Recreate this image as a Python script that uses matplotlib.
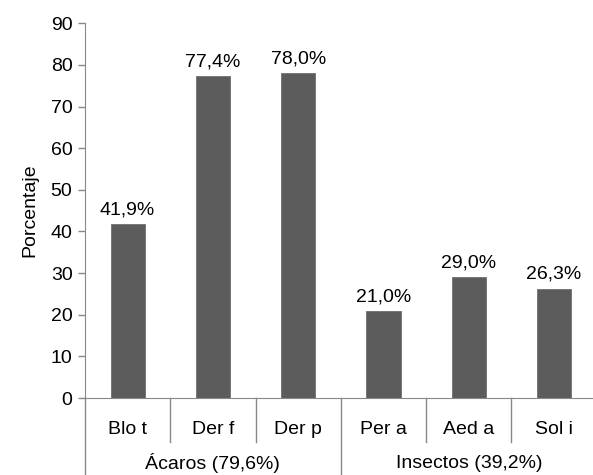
import numpy as np
import matplotlib.pyplot as plt
from matplotlib.transforms import blended_transform_factory

plt.rcParams['font.family'] = ['Liberation Sans', 'DejaVu Sans']

categories = ['Blo t', 'Der f', 'Der p', 'Per a', 'Aed a', 'Sol i']
values = [41.9, 77.4, 78.0, 21.0, 29.0, 26.3]
value_labels = ['41,9%', '77,4%', '78,0%', '21,0%', '29,0%', '26,3%']
groups = ['Ácaros (79,6%)', 'Insectos (39,2%)']
group_sizes = [3, 3]

axis_col = '#888888'
fs = 14

fig = plt.figure(figsize=(5.93, 4.75), dpi=100)
ax = fig.add_axes([0.1433, 0.162, 0.863, 0.789])

x = np.arange(len(categories))
bars = ax.bar(x, values, width=0.4, color='#5c5c5c', edgecolor='#707070', linewidth=0.6)

# data labels above each bar
for b, lab in zip(bars, value_labels):
    ax.annotate(lab, (b.get_x() + b.get_width() / 2, b.get_height()),
                xytext=(0, 4), textcoords='offset points',
                ha='center', va='bottom', fontsize=fs)

ax.set_xlim(-0.5, len(categories) - 0.5)
ax.set_ylim(0, 90)
ax.set_yticks(range(0, 91, 10))
ax.set_xticks([])
ax.tick_params(axis='y', labelsize=fs, colors=axis_col, labelcolor='black',
               length=5, width=1, pad=4)
ax.set_ylabel('Porcentaje', fontsize=fs, labelpad=9)

for s in ['top', 'right']:
    ax.spines[s].set_visible(False)
ax.spines['left'].set_color(axis_col)
ax.spines['bottom'].set_color(axis_col)

# category labels and separators under the axis
tr = blended_transform_factory(ax.transData, ax.transAxes)
for i, c in enumerate(categories):
    ax.text(i, -0.085, c, transform=tr, ha='center', va='center',
            fontsize=fs, clip_on=False)

bounds = np.cumsum([0] + group_sizes)
for k in range(len(categories) + 1):
    xb = k - 0.5
    if k in bounds:
        y_end = -0.21
    else:
        y_end = -0.117
    ax.plot([xb, xb], [0, y_end], transform=tr, color=axis_col,
            lw=1, clip_on=False)

for g, start, n in zip(groups, bounds[:-1], group_sizes):
    ax.text(start + (n - 1) / 2, -0.174, g, transform=tr, ha='center',
            va='center', fontsize=fs, clip_on=False)

plt.savefig('out.png', dpi=100)
